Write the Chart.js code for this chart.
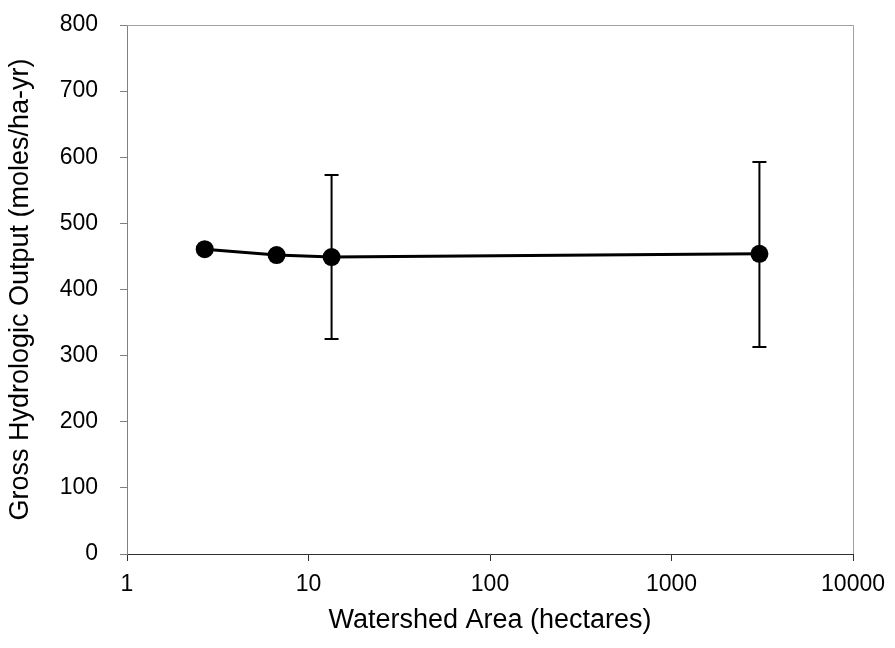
<!DOCTYPE html>
<html>
<head>
<meta charset="utf-8">
<script src="https://cdn.jsdelivr.net/npm/chart.js@4.4.1/dist/chart.umd.min.js"></script>
<style>
  html, body { margin: 0; padding: 0; background: #fff; }
  canvas { display: block; }
</style>
</head>
<body>
<canvas id="chart" width="895" height="648"></canvas>
<script>
// Watershed area (hectares) vs gross hydrologic output
const areas = [2.68, 6.67, 13.4, 3050];
const output = [461, 452, 449, 454];
const errLow = [null, null, 325, 313];
const errHigh = [null, null, 573, 593];
const xTicks = [1, 10, 100, 1000, 10000];

const font = "'Liberation Sans', Arial, sans-serif";

// error bars + light frame on top/right
const errorBars = {
  id: 'errorBars',
  beforeDatasetsDraw(chart) {
    const { ctx, scales: { x, y }, chartArea } = chart;
    ctx.save();
    // frame
    ctx.strokeStyle = '#a0a0a0';
    ctx.lineWidth = 1;
    ctx.beginPath();
    ctx.moveTo(chartArea.left, chartArea.top + 0.5);
    ctx.lineTo(chartArea.right + 0.5, chartArea.top + 0.5);
    ctx.lineTo(chartArea.right + 0.5, chartArea.bottom);
    ctx.stroke();

    ctx.strokeStyle = '#000';
    ctx.lineWidth = 2;
    for (let i = 0; i < areas.length; i++) {
      if (errLow[i] == null) continue;
      const px = x.getPixelForValue(areas[i]);
      const top = y.getPixelForValue(errHigh[i]);
      const bot = y.getPixelForValue(errLow[i]);
      ctx.beginPath();
      ctx.moveTo(px, top);
      ctx.lineTo(px, bot);
      ctx.moveTo(px - 7, top);
      ctx.lineTo(px + 7, top);
      ctx.moveTo(px - 7, bot);
      ctx.lineTo(px + 7, bot);
      ctx.stroke();
    }
    ctx.restore();
  }
};

new Chart(document.getElementById('chart'), {
  type: 'scatter',
  data: {
    datasets: [{
      data: areas.map((a, i) => ({ x: a, y: output[i] })),
      showLine: true,
      borderColor: '#000',
      borderWidth: 3,
      backgroundColor: '#000',
      pointRadius: 9,
      pointHoverRadius: 9,
      pointBorderWidth: 0
    }]
  },
  options: {
    responsive: false,
    animation: false,
    layout: { padding: { left: 0, top: 25, right: 40, bottom: 11 } },
    plugins: {
      legend: { display: false },
      tooltip: { enabled: false }
    },
    scales: {
      x: {
        type: 'logarithmic',
        min: 1,
        max: 10000,
        afterBuildTicks(scale) {
          scale.ticks = xTicks.map(v => ({ value: v }));
        },
        afterFit(scale) { scale.height = 83; },
        ticks: {
          color: '#000',
          font: { family: font, size: 23 },
          padding: 10,
          maxRotation: 0,
          callback: v => String(v)
        },
        grid: { drawOnChartArea: false, drawTicks: true, tickLength: 7, color: '#303030' },
        border: { color: '#303030', width: 1 },
        title: {
          display: true,
          text: 'Watershed Area (hectares)',
          color: '#000',
          font: { family: font, size: 27 },
          padding: { top: 4, bottom: 0 }
        }
      },
      y: {
        min: 0,
        max: 800,
        afterFit(scale) {
          scale.width = 127;
          scale.paddingTop = 0;
          scale.paddingBottom = 0;
        },
        ticks: {
          stepSize: 100,
          color: '#000',
          font: { family: font, size: 23 },
          padding: 22
        },
        grid: { drawOnChartArea: false, drawTicks: true, tickLength: 7, color: '#808080' },
        border: { color: '#808080', width: 1 },
        title: {
          display: true,
          text: 'Gross Hydrologic Output (moles/ha-yr)',
          color: '#000',
          font: { family: font, size: 27 },
          padding: { top: 4, bottom: 0 }
        }
      }
    }
  },
  plugins: [errorBars]
});
</script>
</body>
</html>
